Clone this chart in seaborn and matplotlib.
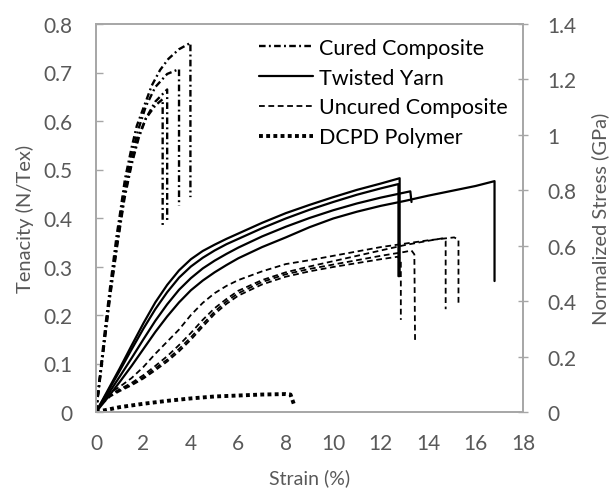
import numpy as np
import pandas as pd
import matplotlib
matplotlib.use("Agg")
import matplotlib.pyplot as plt
from matplotlib.lines import Line2D
import seaborn as sns

# ---------------- data ----------------
# Cured composite (4 specimens)
cured1_x = [0, 0.2, 0.4, 0.6, 0.9, 1.2, 1.5, 1.8, 2.1, 2.5, 2.81, 2.81]
cured1_y = [0, 0.085, 0.165, 0.245, 0.35, 0.445, 0.515, 0.57, 0.605, 0.632, 0.645, 0.383]
cured2_x = [0, 0.2, 0.4, 0.6, 0.9, 1.2, 1.5, 1.8, 2.1, 2.5, 3.0, 3.0]
cured2_y = [0, 0.08, 0.16, 0.24, 0.345, 0.44, 0.51, 0.565, 0.605, 0.64, 0.665, 0.395]
cured3_x = [0, 0.2, 0.4, 0.6, 0.9, 1.2, 1.5, 1.8, 2.1, 2.5, 3.0, 3.5, 3.5]
cured3_y = [0, 0.085, 0.17, 0.25, 0.36, 0.46, 0.53, 0.585, 0.63, 0.67, 0.697, 0.707, 0.425]
cured4_x = [0, 0.2, 0.4, 0.6, 0.87, 1.0, 1.22, 1.5, 1.72, 2.0, 2.35, 2.7, 3.05, 3.5, 3.98, 3.98]
cured4_y = [0, 0.09, 0.18, 0.26, 0.364, 0.405, 0.48, 0.545, 0.59, 0.627, 0.673, 0.705, 0.728, 0.748, 0.761, 0.443]

# Twisted yarn (4 specimens)
yarn1_x = [0, 0.5, 1, 1.5, 2, 2.5, 3, 3.5, 4, 4.5, 5, 5.5, 6, 7, 8, 9, 10, 11, 12, 12.8, 12.8]
yarn1_y = [0, 0.045, 0.09, 0.137, 0.183, 0.226, 0.262, 0.292, 0.315, 0.332, 0.345, 0.357, 0.368, 0.39, 0.41, 0.427, 0.443, 0.458, 0.471, 0.482, 0.28]
yarn2_x = [0, 0.5, 1, 1.5, 2, 2.5, 3, 3.5, 4, 4.5, 5, 5.5, 6, 7, 8, 9, 10, 11, 12, 12.75, 12.75]
yarn2_y = [0, 0.042, 0.085, 0.129, 0.172, 0.212, 0.247, 0.277, 0.3, 0.318, 0.333, 0.346, 0.357, 0.379, 0.399, 0.417, 0.433, 0.448, 0.461, 0.470, 0.28]
yarn3_x = [0, 0.5, 1, 1.5, 2, 2.5, 3, 3.5, 4, 4.5, 5, 5.5, 6, 7, 8, 9, 10, 11, 12, 13.25, 13.3]
yarn3_y = [0, 0.036, 0.073, 0.111, 0.15, 0.188, 0.222, 0.252, 0.276, 0.296, 0.312, 0.326, 0.339, 0.362, 0.382, 0.4, 0.416, 0.43, 0.442, 0.455, 0.433]
yarn4_x = [0, 0.5, 1, 1.5, 2, 2.5, 3, 3.5, 4, 4.5, 5, 5.5, 6, 7, 8, 9, 10, 11, 12, 13, 14, 15, 16, 16.8, 16.8]
yarn4_y = [0, 0.03, 0.062, 0.095, 0.13, 0.165, 0.197, 0.226, 0.251, 0.271, 0.288, 0.303, 0.317, 0.34, 0.36, 0.381, 0.399, 0.413, 0.425, 0.435, 0.446, 0.456, 0.466, 0.476, 0.27]

# Uncured composite (4 specimens)
uncured1_x = [0, 0.3, 0.6, 1, 1.5, 2, 2.5, 3, 3.5, 4, 4.5, 5, 5.5, 6, 7, 8, 9, 10, 11, 12, 13, 14, 15.1, 15.28, 15.28]
uncured1_y = [0, 0.025, 0.04, 0.052, 0.07, 0.093, 0.12, 0.145, 0.17, 0.2, 0.225, 0.245, 0.26, 0.272, 0.29, 0.305, 0.313, 0.322, 0.331, 0.34, 0.347, 0.354, 0.36, 0.355, 0.222]
uncured2_x = [0, 0.3, 0.6, 1, 1.5, 2, 2.5, 3, 3.5, 4, 4.5, 5, 5.5, 6, 7, 8, 9, 10, 11, 12, 13, 14, 14.6, 14.74, 14.74]
uncured2_y = [0, 0.022, 0.036, 0.047, 0.06, 0.076, 0.095, 0.115, 0.138, 0.163, 0.19, 0.214, 0.233, 0.25, 0.272, 0.288, 0.3, 0.311, 0.322, 0.333, 0.344, 0.353, 0.358, 0.352, 0.212]
uncured3_x = [0, 0.3, 0.6, 1, 1.5, 2, 2.5, 3, 3.5, 4, 4.5, 5, 5.5, 6, 7, 8, 9, 10, 11, 12, 13, 13.3, 13.42, 13.45]
uncured3_y = [0, 0.02, 0.034, 0.045, 0.057, 0.072, 0.09, 0.108, 0.13, 0.154, 0.181, 0.207, 0.228, 0.245, 0.268, 0.284, 0.295, 0.304, 0.313, 0.322, 0.33, 0.333, 0.325, 0.146]
uncured4_x = [0, 0.3, 0.6, 1, 1.5, 2, 2.5, 3, 3.5, 4, 4.5, 5, 5.5, 6, 7, 8, 9, 10, 11, 12, 12.7, 12.85, 12.85]
uncured4_y = [0, 0.019, 0.032, 0.043, 0.055, 0.069, 0.086, 0.104, 0.125, 0.149, 0.176, 0.202, 0.223, 0.24, 0.263, 0.279, 0.29, 0.299, 0.307, 0.315, 0.32, 0.315, 0.19]

# DCPD polymer
dcpd_x = [0, 1, 2, 3, 4, 5, 6, 7, 8, 8.2, 8.35]
dcpd_y = [0, 0.01, 0.017, 0.023, 0.028, 0.032, 0.034, 0.036, 0.037, 0.036, 0.015]

materials = ["Cured Composite", "Twisted Yarn", "Uncured Composite", "DCPD Polymer"]
left_ticks = [0, 0.1, 0.2, 0.3, 0.4, 0.5, 0.6, 0.7, 0.8]
left_labels = ["0", "0.1", "0.2", "0.3", "0.4", "0.5", "0.6", "0.7", "0.8"]
right_ticks = [0, 0.2, 0.4, 0.6, 0.8, 1.0, 1.2, 1.4]
right_labels = ["0", "0.2", "0.4", "0.6", "0.8", "1", "1.2", "1.4"]
x_ticks = [0, 2, 4, 6, 8, 10, 12, 14, 16, 18]

# ---------------- build long table ----------------
curves = {
    "Cured Composite": [(cured1_x, cured1_y), (cured2_x, cured2_y), (cured3_x, cured3_y), (cured4_x, cured4_y)],
    "Twisted Yarn": [(yarn1_x, yarn1_y), (yarn2_x, yarn2_y), (yarn3_x, yarn3_y), (yarn4_x, yarn4_y)],
    "Uncured Composite": [(uncured1_x, uncured1_y), (uncured2_x, uncured2_y), (uncured3_x, uncured3_y), (uncured4_x, uncured4_y)],
    "DCPD Polymer": [(dcpd_x, dcpd_y)],
}
rows = []
for mat, specs in curves.items():
    for i, (xs, ys) in enumerate(specs):
        for k, (xv, yv) in enumerate(zip(xs, ys)):
            rows.append({"material": mat, "specimen": f"{mat}-{i}", "order": k,
                         "strain": xv, "tenacity": yv})
df = pd.DataFrame(rows)

# ---------------- styling ----------------
sns.set_theme(style="white")
plt.rcParams["font.family"] = ["Lato", "DejaVu Sans"]
text_c = "#595959"
spine_c = "#A6A6A6"

styles = {
    "Cured Composite": dict(lw=1.7, dashes=(2.8, 1.4, 0.8, 1.4)),
    "Twisted Yarn": dict(lw=1.6, dashes=None),
    "Uncured Composite": dict(lw=1.3, dashes=(3.2, 2.0)),
    "DCPD Polymer": dict(lw=2.8, dashes=(1.0, 0.85)),
}

fig = plt.figure(figsize=(6.10, 4.89), dpi=100)
ax = fig.add_axes([96 / 610, 1 - 413 / 489, (523 - 96) / 610, (413 - 25) / 489])

for mat in materials:
    sub = df[df["material"] == mat]
    st = styles[mat]
    sns.lineplot(data=sub, x="strain", y="tenacity", units="specimen", estimator=None,
                 sort=False, color="black", lw=st["lw"], ax=ax, legend=False)
    for line in ax.lines[-sub["specimen"].nunique():]:
        if st["dashes"] is not None:
            line.set_dashes(st["dashes"])
            line.set_dash_capstyle("butt")
        line.set_solid_joinstyle("round")

ax.set_xlim(0, 18)
ax.set_ylim(0, 0.8)
ax.set_xticks(x_ticks)
ax.set_xticklabels([str(t) for t in x_ticks])
ax.set_yticks(left_ticks)
ax.set_yticklabels(left_labels)
ax.set_xlabel("Strain (%)", fontsize=14, color=text_c, labelpad=11)
ax.set_ylabel("Tenacity (N/Tex)", fontsize=14.5, color=text_c, labelpad=7)
ax.tick_params(axis="x", direction="in", length=6, width=1, color=spine_c,
               labelsize=15, labelcolor=text_c, pad=15)
ax.tick_params(axis="y", direction="in", length=5, width=1, color=spine_c,
               labelsize=15, labelcolor=text_c, pad=17)
for s in ax.spines.values():
    s.set_color(spine_c)
    s.set_linewidth(1.2)

ax2 = ax.twinx()
ax2.set_ylim(0, 1.4)
ax2.set_yticks(right_ticks)
ax2.set_yticklabels(right_labels)
ax2.tick_params(axis="y", direction="inout", length=7, width=1, color=spine_c,
                labelsize=15, labelcolor=text_c, pad=14)
ax2.set_ylabel("Normalized Stress (GPa)", fontsize=14.5, color=text_c, labelpad=11)
for s in ax2.spines.values():
    s.set_color(spine_c)
    s.set_linewidth(1.2)

handles = []
for mat in materials:
    st = styles[mat]
    h = Line2D([], [], color="black", lw=st["lw"])
    if st["dashes"] is not None:
        h.set_dashes(st["dashes"])
        h.set_dash_capstyle("butt")
    handles.append(h)
leg = ax.legend(handles, materials, loc="upper left", bbox_to_anchor=(259 / 610, 1 - 39 / 489),
                bbox_transform=fig.transFigure, frameon=False, fontsize=15.5,
                handlelength=2.5, handletextpad=0.3, labelspacing=0.45, borderaxespad=0,
                borderpad=0)
for t in leg.get_texts():
    t.set_color("black")

fig.savefig("out.png", dpi=100, facecolor="white")
